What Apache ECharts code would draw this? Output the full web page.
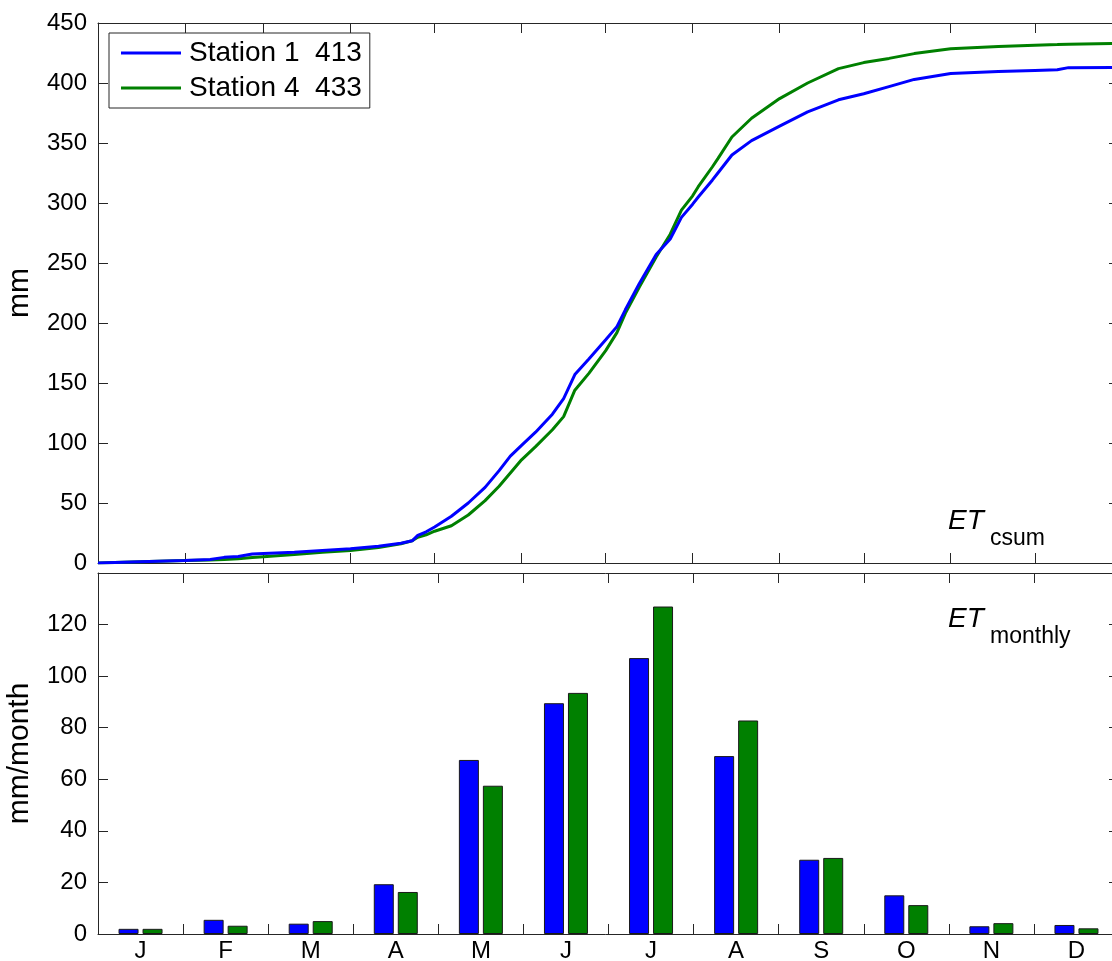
<!DOCTYPE html>
<html><head><meta charset="utf-8">
<script src="https://cdn.jsdelivr.net/npm/echarts@6/dist/echarts.min.js"></script>
<style>html,body{margin:0;padding:0;background:#fff;overflow:hidden}#c{width:1112px;height:961px}</style>
</head><body><div id="c"></div>
<script>
// ---- data ----
const seriesNames = ['Station 1', 'Station 4'];
const annualTotals = [413, 433];
const cumDays = [0,15,31,40,45,50,55,59,70,80,90,100,108,112,114,117,120,126,132,138,143,147,151,156,162,166,170,175,181,185,188,193,199,204,208,212,214,219,221,226,233,243,253,264,273,282,291,304,321,334,342,346,364];
const station1Cum = [0,1,2,3,4.7,5.5,7.5,8,9,10.5,11.8,14,16.5,18.5,23,26,30,39,50,63,77,89,98,109,124,137,157,170,186,197,211,233,257,270,288,299,305,319,325,340,352,364,376,386,391,397,403,408,409.5,410.5,411,412.8,413];
const station4Cum = [0,1,2,2.5,3,3.5,4.5,5.2,7,9,10.5,13,16,18.5,21.5,23.5,26.5,31,40,52,64,75,86,97,111,122,144,158,177,192,208,230,255,274,294,306,313.6,330,337,355,370.6,387,400,412,417,420.5,424.5,428.5,430.5,431.5,432,432.3,433];
const monthTickDays = [31,59,90,120,151,181,212,243,273,304,334];
const monthLabels = ['J','F','M','A','M','J','J','A','S','O','N','D'];
const station1Monthly = [2, 5.5, 4, 19.3, 67.5, 89.5, 107, 69, 28.8, 15, 3, 3.5];
const station4Monthly = [2, 3.2, 5, 16.3, 57.5, 93.5, 127, 82.8, 29.5, 11.2, 4.2, 2.2];

// ---- chart ----
const FONT = 'Liberation Sans';
const AX = '#262626';
const colors = ['#0000ff', '#008000'];

function xDay(pos) {
  return {
    type: 'value', gridIndex: 0, position: pos, min: 0, max: 364,
    axisLine: { show: true, onZero: false, lineStyle: { color: AX, width: 1 } },
    axisTick: { show: true, inside: true, length: 10, customValues: monthTickDays, lineStyle: { color: AX } },
    axisLabel: { show: false },
    splitLine: { show: false }
  };
}
function xMonth(pos, withLabels) {
  return {
    type: 'category', gridIndex: 1, position: pos, data: monthLabels, boundaryGap: true,
    axisLine: { show: true, onZero: false, lineStyle: { color: AX, width: 1 } },
    axisTick: { show: true, inside: true, length: 10, interval: 0, alignWithLabel: false, lineStyle: { color: AX } },
    axisLabel: withLabels ? { show: true, interval: 0, margin: 5, color: '#000', fontFamily: FONT, fontSize: 24 } : { show: false },
    splitLine: { show: false }
  };
}
function yAx(grid, pos, max, interval, name) {
  const left = pos === 'left';
  return {
    type: 'value', gridIndex: grid, position: pos, min: 0, max: max, interval: interval,
    name: left ? name : '', nameLocation: 'middle', nameGap: 63,
    nameTextStyle: { fontFamily: FONT, fontSize: 30, color: '#000' },
    axisLine: { show: true, onZero: false, lineStyle: { color: AX, width: 1 } },
    axisTick: { show: true, inside: true, length: 10, lineStyle: { color: AX } },
    axisLabel: left ? {
      show: true, margin: 11, color: '#000', fontFamily: FONT, fontSize: 24,
      formatter: v => (v === max && grid === 1) ? '' : String(v)
    } : { show: false },
    splitLine: { show: false }
  };
}

const chart = echarts.init(document.getElementById('c'), null, { renderer: 'canvas' });
chart.setOption({
  animation: false,
  backgroundColor: '#fff',
  grid: [
    { left: 98, right: -7, top: 23, height: 540, containLabel: false, outerBoundsMode: 'none' },
    { left: 98, right: -7, top: 573, height: 361, containLabel: false, outerBoundsMode: 'none' }
  ],
  xAxis: [xDay('bottom'), xDay('top'), xMonth('bottom', true), xMonth('top', false)],
  yAxis: [yAx(0, 'left', 450, 50, 'mm'), yAx(0, 'right', 450, 50, ''), yAx(1, 'left', 140, 20, 'mm/month'), yAx(1, 'right', 140, 20, '')],
  legend: {
    data: seriesNames, orient: 'vertical', left: 109, top: 33,
    icon: 'rect', itemWidth: 60, itemHeight: 3, itemGap: 7,
    padding: [6, 8, 6, 12], borderColor: AX, borderWidth: 1, backgroundColor: '#fff',
    textStyle: { fontFamily: FONT, fontSize: 28, color: '#000', padding: [0, 0, 0, 3] },
    formatter: n => n + '  ' + annualTotals[seriesNames.indexOf(n)],
    selectedMode: false
  },
  graphic: [
    { type: 'text', x: 948, y: 521, style: { text: 'ET', font: 'italic 28px "Liberation Sans"', fill: '#000', textVerticalAlign: 'middle' } },
    { type: 'text', x: 990, y: 539, style: { text: 'csum', font: '23px "Liberation Sans"', fill: '#000', textVerticalAlign: 'middle' } },
    { type: 'text', x: 948, y: 619, style: { text: 'ET', font: 'italic 28px "Liberation Sans"', fill: '#000', textVerticalAlign: 'middle' } },
    { type: 'text', x: 990, y: 637, style: { text: 'monthly', font: '23px "Liberation Sans"', fill: '#000', textVerticalAlign: 'middle' } }
  ],
  series: [
    { name: seriesNames[0], type: 'line', xAxisIndex: 0, yAxisIndex: 0, showSymbol: false, symbol: 'none',
      data: cumDays.map((d, i) => [d, station1Cum[i]]), lineStyle: { color: colors[0], width: 3 }, itemStyle: { color: colors[0] }, z: 3 },
    { name: seriesNames[1], type: 'line', xAxisIndex: 0, yAxisIndex: 0, showSymbol: false, symbol: 'none',
      data: cumDays.map((d, i) => [d, station4Cum[i]]), lineStyle: { color: colors[1], width: 3 }, itemStyle: { color: colors[1] }, z: 2 },
    { name: seriesNames[0], type: 'bar', xAxisIndex: 2, yAxisIndex: 2, barWidth: 20, barGap: '20%',
      data: station1Monthly, itemStyle: { color: colors[0], borderColor: '#1a1a1a', borderWidth: 1 } },
    { name: seriesNames[1], type: 'bar', xAxisIndex: 2, yAxisIndex: 2, barWidth: 20, barGap: '20%',
      data: station4Monthly, itemStyle: { color: colors[1], borderColor: '#1a1a1a', borderWidth: 1 } }
  ]
});
</script>
</body></html>
